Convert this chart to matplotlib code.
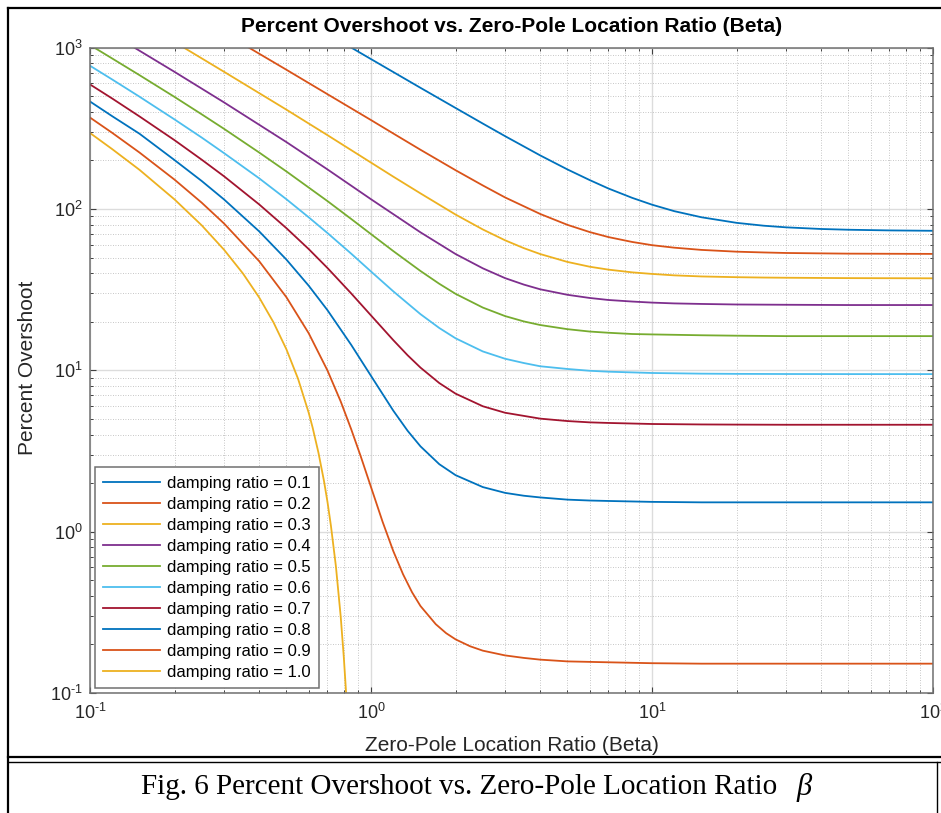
import matplotlib
matplotlib.use('Agg')
import math
import matplotlib.pyplot as plt
from matplotlib.lines import Line2D
from matplotlib.ticker import LogLocator, NullFormatter, FuncFormatter

plt.rcParams['font.family'] = ['Liberation Sans', 'DejaVu Sans']
plt.rcParams['mathtext.fontset'] = 'custom'
plt.rcParams['mathtext.rm'] = 'Liberation Sans'
plt.rcParams['mathtext.it'] = 'Liberation Sans:italic'
plt.rcParams['axes.unicode_minus'] = False

# ---------------- data ----------------
labels = ['damping ratio = 0.1', 'damping ratio = 0.2', 'damping ratio = 0.3',
          'damping ratio = 0.4', 'damping ratio = 0.5', 'damping ratio = 0.6',
          'damping ratio = 0.7', 'damping ratio = 0.8', 'damping ratio = 0.9',
          'damping ratio = 1.0']

beta_z01 = [0.852, 1, 1.5, 2, 2.5, 3, 4, 5, 6, 7, 8.5, 10, 12, 15, 20, 25, 30, 40, 50, 70, 100]
po_z01 = [1000, 850, 564, 423, 338.6, 283, 215, 176, 151.2, 134, 117.3, 106.4, 97.0, 88.9, 82.1,
          78.8, 77.0, 75.2, 74.4, 73.7, 73.3]

beta_z02 = [0.368, 0.5, 0.7, 1, 1.2, 1.5, 2, 2.5, 3, 4, 5, 6, 7, 8.5, 10, 12, 15, 20, 25, 30, 40,
            50, 70, 100]
po_z02 = [1000, 730, 515, 356, 294, 233, 174, 140, 118, 93.2, 79.8, 72.0, 67.0, 62.5, 59.7, 57.6,
          55.8, 54.4, 53.8, 53.4, 53.1, 52.9, 52.8, 52.7]

beta_z03 = [0.216, 0.3, 0.5, 0.7, 1, 1.2, 1.5, 2, 2.5, 3, 3.5, 4, 5, 6, 7, 8.5, 10, 12, 15, 20, 25,
            30, 50, 100]
po_z03 = [1000, 709, 413, 287, 194, 158.8, 125, 92.4, 74.7, 64.0, 57.2, 52.6, 47.0, 43.9, 42.1,
          40.5, 39.6, 38.8, 38.2, 37.8, 37.6, 37.5, 37.3, 37.2]

beta_z04 = [0.144, 0.2, 0.3, 0.5, 0.7, 1, 1.2, 1.5, 2, 2.5, 3, 3.5, 4, 5, 6, 7, 8.5, 10, 12, 15, 20,
            30, 50, 100]
po_z04 = [1000, 708, 458, 260, 176, 115, 93.0, 71.7, 52.6, 42.9, 37.3, 34.0, 31.8, 29.4, 28.1, 27.3,
          26.7, 26.3, 26.0, 25.8, 25.6, 25.5, 25.4, 25.4]

beta_z05 = [0.1037, 0.12, 0.15, 0.2, 0.25, 0.3, 0.4, 0.5, 0.7, 0.85, 1, 1.2, 1.5, 1.75, 2, 2.5, 3,
            3.5, 4, 5, 6, 7, 8.5, 10, 15, 20, 30, 50, 100]
po_z05 = [1000, 857, 676, 495, 386, 314, 224, 171, 112, 86.8, 69.9, 54.9, 41.3, 34.4, 29.8, 24.5,
          21.7, 20.1, 19.1, 18.0, 17.4, 17.1, 16.8, 16.7, 16.5, 16.4, 16.3, 16.3, 16.3]

beta_z06 = [0.1, 0.12, 0.15, 0.2, 0.25, 0.3, 0.4, 0.5, 0.6, 0.7, 0.85, 1, 1.2, 1.5, 1.75, 2, 2.5, 3,
            3.5, 4, 5, 6, 7, 10, 15, 20, 30, 50, 100]
po_z06 = [773, 635, 497, 359, 277, 222, 155, 115, 88.9, 71.0, 52.9, 41.0, 30.9, 22.3, 18.3, 15.8,
          13.1, 11.8, 11.1, 10.6, 10.2, 9.94, 9.81, 9.63, 9.54, 9.51, 9.49, 9.48, 9.48]

beta_z07 = [0.1, 0.12, 0.15, 0.2, 0.25, 0.3, 0.4, 0.5, 0.6, 0.7, 0.85, 1, 1.2, 1.35, 1.5, 1.75, 2,
            2.5, 3, 3.5, 4, 5, 6, 7, 10, 15, 20, 30, 50, 100]
po_z07 = [592, 484, 375, 267, 202, 159.5, 106.8, 76.1, 56.5, 43.1, 30.0, 21.9, 15.4, 12.4, 10.4,
          8.34, 7.17, 5.99, 5.46, 5.22, 5.02, 4.85, 4.76, 4.72, 4.65, 4.62, 4.61, 4.60, 4.60, 4.60]

beta_z08 = [0.1, 0.12, 0.15, 0.2, 0.25, 0.3, 0.4, 0.5, 0.6, 0.7, 0.85, 1, 1.2, 1.35, 1.5, 1.75, 2,
            2.5, 3, 3.5, 4, 5, 6, 7, 10, 15, 20, 30, 50, 100]
po_z08 = [464, 376, 293, 201, 149, 114.6, 72.7, 48.6, 33.5, 23.6, 14.4, 9.24, 5.63, 4.22, 3.38,
          2.62, 2.24, 1.89, 1.74, 1.67, 1.63, 1.58, 1.56, 1.55, 1.53, 1.52, 1.52, 1.52, 1.52, 1.52]

beta_z09 = [0.1, 0.12, 0.15, 0.2, 0.25, 0.3, 0.4, 0.5, 0.6, 0.7, 0.78, 0.85, 0.92, 1, 1.1, 1.2, 1.3,
            1.4, 1.5, 1.7, 1.85, 2, 2.25, 2.5, 3, 3.5, 4, 5, 7, 10, 15, 20, 30, 50, 100]
po_z09 = [369, 296.5, 224, 152, 109.3, 81.3, 47.5, 28.4, 17.0, 9.98, 6.42, 4.32, 2.92, 1.89, 1.15,
          0.759, 0.545, 0.421, 0.346, 0.267, 0.235, 0.215, 0.195, 0.183, 0.171, 0.165, 0.161,
          0.157, 0.155, 0.153, 0.152, 0.152, 0.152, 0.152, 0.152]

beta_z10 = [0.1, 0.12, 0.15, 0.2, 0.25, 0.3, 0.35, 0.4, 0.45, 0.5, 0.55, 0.6, 0.62, 0.65, 0.68, 0.7,
            0.72, 0.75, 0.78, 0.8, 0.8155]
po_z10 = [296, 235, 175, 114.6, 79.1, 55.9, 39.9, 28.3, 19.8, 13.5, 8.87, 5.47, 4.41, 3.09, 2.07,
          1.53, 1.09, 0.611, 0.299, 0.168, 0.1]

series_beta = [beta_z01, beta_z02, beta_z03, beta_z04, beta_z05,
               beta_z06, beta_z07, beta_z08, beta_z09, beta_z10]
series_po = [po_z01, po_z02, po_z03, po_z04, po_z05,
             po_z06, po_z07, po_z08, po_z09, po_z10]

colors = ['#0072BD', '#D95319', '#EDB120', '#7E2F8E', '#77AC30',
          '#4DBEEE', '#A2142F', '#0072BD', '#D95319', '#EDB120']

title = 'Percent Overshoot vs. Zero-Pole Location Ratio (Beta)'
xlabel = 'Zero-Pole Location Ratio (Beta)'
ylabel = 'Percent Overshoot'
caption = 'Fig. 6 Percent Overshoot vs. Zero-Pole Location Ratio'
caption_sym = '\u03b2'

# ---------------- figure ----------------
W, H = 941, 813
fig = plt.figure(figsize=(W / 100, H / 100), dpi=100)
fig.patch.set_facecolor('white')

ax_l, ax_r, ax_t, ax_b = 90, 933, 47.7, 693
ax = fig.add_axes([ax_l / W, 1 - ax_b / H, (ax_r - ax_l) / W, (ax_b - ax_t) / H])

for b, p, c, lab in zip(series_beta, series_po, colors, labels):
    ax.plot(b, p, color=c, lw=1.3, label=lab, solid_joinstyle='round')

ax.set_xscale('log')
ax.set_yscale('log')
ax.set_xlim(0.1, 100)
ax.set_ylim(0.1, 1000)


def pow_fmt(v, pos):
    e = int(round(math.log10(v)))
    if e < 0:
        return r'$\mathdefault{10^{\text{-}%d}}$' % (-e)
    return r'$\mathdefault{10^{%d}}$' % e


ax.xaxis.set_major_locator(LogLocator(base=10, numticks=10))
ax.yaxis.set_major_locator(LogLocator(base=10, numticks=10))
ax.xaxis.set_major_formatter(FuncFormatter(pow_fmt))
ax.yaxis.set_major_formatter(FuncFormatter(pow_fmt))
ax.xaxis.set_minor_locator(LogLocator(base=10, subs=range(2, 10), numticks=20))
ax.yaxis.set_minor_locator(LogLocator(base=10, subs=range(2, 10), numticks=20))
ax.xaxis.set_minor_formatter(NullFormatter())
ax.yaxis.set_minor_formatter(NullFormatter())

ax.grid(True, which='major', color='#dcdcdc', lw=1.0, ls='-')
ax.grid(True, which='minor', color='#b4b4b4', lw=0.6, ls=(0, (1, 2)))
ax.set_axisbelow(True)

for s in ax.spines.values():
    s.set_color('#707070')
    s.set_linewidth(1.1)

ax.tick_params(which='both', direction='in', top=True, right=True,
               color='#404040', labelcolor='#262626', labelsize=13)
ax.tick_params(which='major', length=4, width=0.8)
ax.tick_params(which='minor', length=2.5, width=0.7)
ax.tick_params(axis='x', which='major', pad=7)
ax.tick_params(axis='y', which='major', pad=5)

leg = ax.legend(loc='lower left', bbox_to_anchor=(0, 0), fontsize=12,
                frameon=True, fancybox=False, framealpha=1, edgecolor='#707070',
                handlelength=3.4, handletextpad=0.4, labelspacing=0.36,
                borderpad=0.5, borderaxespad=0.3)
leg.get_frame().set_linewidth(1.1)

fig.text((ax_l + ax_r) / 2 / W, 1 - 27 / H, title, ha='center', va='center',
         fontsize=15, fontweight='bold', color='black')
fig.text((ax_l + ax_r) / 2 / W, 1 - 745 / H, xlabel, ha='center', va='center',
         fontsize=15, color='#262626')
fig.text(28 / W, 1 - 368 / H, ylabel, ha='center', va='center', rotation=90,
         fontsize=15, color='#262626')

serif = ['Liberation Serif', 'DejaVu Serif']
fig.text(141 / W, 1 - 787 / H, caption, ha='left', va='center',
         fontsize=21, family=serif, color='black')
fig.text(797 / W, 1 - 787 / H, caption_sym, ha='left', va='center',
         fontsize=22, family=serif, style='italic', color='black')


def fline(x0, y0, x1, y1, lw=1.6):
    fig.add_artist(Line2D([x0 / W, x1 / W], [1 - y0 / H, 1 - y1 / H],
                          transform=fig.transFigure, color='black', lw=lw))


fline(8, 8, W, 8)
fline(8, 8, 8, H)
fline(8, 757, W, 757)
fline(8, 762, W, 762, lw=1.0)
fline(937, 762, 937, H, lw=1.0)

fig.savefig('out.png', dpi=100)
